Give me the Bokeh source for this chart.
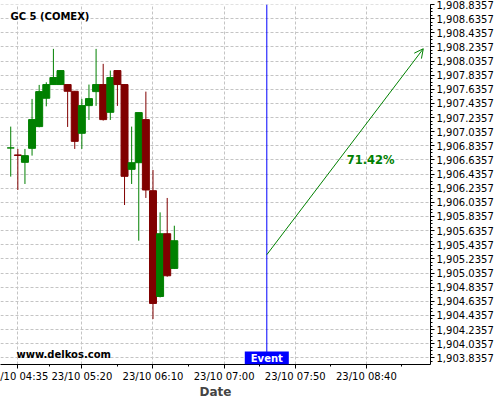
import pandas as pd
from bokeh.plotting import figure
from bokeh.models import (Range1d, FixedTicker, NumeralTickFormatter, DatetimeTickFormatter,
                          Span, Label, Arrow, OpenHead, ColumnDataSource)
from bokeh.embed import file_html
from bokeh.resources import INLINE

# ---------------- data ----------------
times = ["04:30", "04:35", "04:40", "04:45", "04:50", "04:55", "05:00", "05:05",
         "05:10", "05:15", "05:20", "05:25", "05:30", "05:35", "05:40", "05:45",
         "05:50", "05:55", "06:00", "06:05", "06:10", "06:15", "06:20", "06:25"]
opens = [1906.806, 1906.707, 1906.602, 1906.800, 1907.108, 1907.509, 1907.703, 1907.703,
         1907.703, 1907.608, 1907.013, 1907.405, 1907.603, 1907.703, 1907.310, 1907.901,
         1907.703, 1906.503, 1906.597, 1907.207, 1906.201, 1904.704, 1905.592, 1905.101]
highs = [1907.108, 1906.792, 1906.792, 1907.500, 1907.698, 1907.735, 1908.208, 1907.901,
         1907.703, 1907.608, 1907.500, 1907.703, 1908.208, 1907.996, 1907.901, 1907.901,
         1907.703, 1907.108, 1907.306, 1907.603, 1906.494, 1905.894, 1906.098, 1905.705]
lows = [1906.400, 1906.211, 1906.296, 1906.697, 1907.098, 1907.395, 1907.698, 1907.698,
        1907.103, 1906.792, 1906.792, 1907.202, 1907.401, 1907.193, 1907.202, 1907.401,
        1905.998, 1906.296, 1905.493, 1906.098, 1904.384, 1904.690, 1904.983, 1905.092]
closes = [1906.806, 1906.700, 1906.697, 1907.207, 1907.603, 1907.703, 1907.802, 1907.901,
          1907.608, 1906.899, 1907.405, 1907.504, 1907.703, 1907.207, 1907.802, 1907.703,
          1906.404, 1906.597, 1907.306, 1906.211, 1904.605, 1905.592, 1904.997, 1905.493]

day = "2023-10-23"
x_tick_times = ["04:35", "05:20", "06:10", "07:00", "07:50", "08:40"]
x_minor_times = ["04:10", "04:57:30", "05:45", "06:35", "07:25", "08:15", "09:05"]
event_time = "07:30"
arrow_start_time, arrow_start_value = "07:30", 1905.295
arrow_end_time, arrow_end_value = "09:20", 1908.21
pct_label = "71.42%"
y_ticks = [round(1903.8357 + 0.2 * k, 4) for k in range(26)]
y_min, y_max = 1903.741, 1908.8360

title_text = "GC 5 (COMEX)"
site_text = "www.delkos.com"

# ---------------- helpers ----------------
EPOCH = pd.Timestamp("1970-01-01")


def ms(hm):
    return (pd.Timestamp(f"{day} {hm}") - EPOCH) / pd.Timedelta(milliseconds=1)


GREEN = "#008000"
RED = "#800000"
FONT = "DejaVu Sans"
SHIFT = 30  # canvas part hidden off the left of the page (first tick label is cut, as in the original)

x = [ms(t) for t in times]
colors = [GREEN if c >= o else RED for o, c in zip(opens, closes)]
src = ColumnDataSource(dict(
    x=x, high=highs, low=lows,
    top=[max(o, c) for o, c in zip(opens, closes)],
    bottom=[min(o, c) for o, c in zip(opens, closes)],
    color=colors))

x_start = ms("04:22:49")
x_end = ms("09:25:04")

p = figure(x_axis_type="datetime", y_axis_location="right",
           frame_width=430, frame_height=360,
           min_border_left=SHIFT, min_border_top=4, min_border_right=66, min_border_bottom=0,
           x_range=Range1d(x_start, x_end), y_range=Range1d(y_min, y_max),
           output_backend="svg", toolbar_location=None)
p.styles = {"margin-left": f"-{SHIFT}px"}
p.outline_line_color = None
p.background_fill_color = "white"
p.border_fill_color = "white"

# grid
for g in (p.xgrid, p.ygrid):
    g.grid_line_color = "#c4c4c4"
    g.grid_line_dash = "3 2"
    g.grid_line_width = 1

# x axis
xa = p.xaxis[0]
xa.ticker = FixedTicker(ticks=[ms(t) for t in x_tick_times],
                        minor_ticks=[ms(t) for t in x_minor_times])
fmt = "%d/%m %H:%M"
xa.formatter = DatetimeTickFormatter(minutes=fmt, hourmin=fmt, hours=fmt, days=fmt,
                                     minsec=fmt, seconds=fmt)
xa.axis_label = "Date"
xa.axis_label_text_font = FONT
xa.axis_label_text_font_style = "bold"
xa.axis_label_text_font_size = "12px"
xa.axis_label_standoff = 0
xa.major_label_text_font = FONT
xa.major_label_text_font_size = "10px"
xa.major_label_text_color = "black"
xa.major_label_standoff = 2
xa.major_tick_in = 0
xa.major_tick_out = 4
xa.minor_tick_in = 0
xa.minor_tick_out = 2
xa.axis_line_color = "black"

# y axis
ya = p.yaxis[0]
ya.ticker = FixedTicker(ticks=y_ticks,
                        minor_ticks=[round(1903.7357 + 0.05 * k, 4) for k in range(104)])
ya.formatter = NumeralTickFormatter(format="0,0.0000")
ya.major_label_text_font = FONT
ya.major_label_text_font_size = "10px"
ya.major_label_text_color = "black"
ya.major_label_standoff = 2
ya.major_tick_in = 0
ya.major_tick_out = 4
ya.minor_tick_in = 0
ya.minor_tick_out = 2
ya.axis_line_color = "black"

# candles
p.segment(x0="x", x1="x", y0="low", y1="high", color="color", line_width=1, source=src)
p.vbar(x="x", width=4.9 * 60 * 1000, top="top", bottom="bottom",
       fill_color="color", line_color="color", line_width=1, source=src)

# event line
p.add_layout(Span(location=ms(event_time), dimension="height", line_color="#0000ff", line_width=1))
p.add_layout(Label(x=ms(event_time), y=y_min, text="Event", text_color="white",
                   text_font=FONT, text_font_style="bold", text_font_size="10px",
                   text_align="center", text_baseline="bottom",
                   background_fill_color="#0000ff",
                   padding=dict(left=6, right=6, top=1, bottom=1)))

# arrow + percentage
p.add_layout(Arrow(end=OpenHead(size=9, line_color=GREEN, line_width=1),
                   x_start=ms(arrow_start_time), y_start=arrow_start_value,
                   x_end=ms(arrow_end_time), y_end=arrow_end_value,
                   line_color=GREEN, line_width=1))
p.add_layout(Label(x=ms("08:43"), y=1906.64, text=pct_label, text_color=GREEN,
                   text_font=FONT, text_font_style="bold", text_font_size="11.5px",
                   text_align="center", text_baseline="middle"))

# title and site
p.add_layout(Label(x=x_start, y=y_max, x_offset=10, y_offset=-12, text=title_text,
                   text_font=FONT, text_font_style="bold", text_font_size="10px",
                   text_color="black", text_baseline="middle"))
p.add_layout(Label(x=x_start, y=y_min, x_offset=16, y_offset=10, text=site_text,
                   text_font=FONT, text_font_style="bold", text_font_size="10px",
                   text_color="black", text_baseline="middle"))

open("out.html", "w").write(file_html(p, INLINE))
